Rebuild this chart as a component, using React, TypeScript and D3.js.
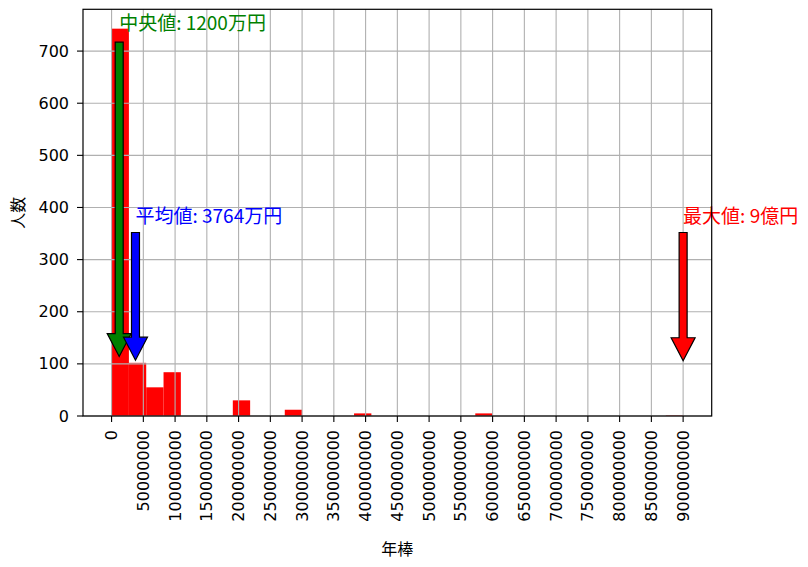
import React from "react";
import * as d3 from "d3";

// ---- data ----
const BIN_MIN = 0;
const BIN_MAX = 900000000;
const BIN_COUNTS = [
  743, 102, 55, 84, 0, 0, 0, 30, 0, 0, 12, 0, 0, 0, 5, 0, 0, 0, 0, 0, 0, 5, 0,
  0, 0, 0, 0, 0, 0, 0, 0, 0, 1,
];
const X_TICKS = d3.range(0, 900000001, 50000000);
const Y_TICKS = [0, 100, 200, 300, 400, 500, 600, 700];
const X_LABEL = "年棒";
const Y_LABEL = "人数";

const ANNOT_LABELS = ["中央値: 1200万円", "平均値: 3764万円", "最大値: 9億円"];
const ANNOT_X = [12000000, 37640000, 900000000];
const ANNOT_COLORS = ["green", "blue", "red"];
const ANNOT_TEXT_Y = [741, 370, 370];
const ARROW_START_Y = [717, 352, 352];
const ARROW_TIP_Y = [114, 107, 106];

// ---- layout ----
const W = 808;
const H = 567;
const M = { left: 83, right: 711.7, top: 9.3, bottom: 416 };
const TICK_FONT = "'DejaVu Sans', 'Noto Sans CJK JP', sans-serif";
const CJK_FONT = "'Noto Sans CJK JP', 'DejaVu Sans', sans-serif";

export default function App() {
  const maxCount = d3.max(BIN_COUNTS) as number;
  const span = BIN_MAX - BIN_MIN;
  const x = d3
    .scaleLinear()
    .domain([BIN_MIN - span * 0.05, BIN_MAX + span * 0.05])
    .range([M.left, M.right]);
  const y = d3
    .scaleLinear()
    .domain([0, maxCount * 1.05])
    .range([M.bottom, M.top]);
  const binW = span / BIN_COUNTS.length;

  const bins = BIN_COUNTS.map((c, i) => ({
    x0: BIN_MIN + i * binW,
    x1: BIN_MIN + (i + 1) * binW,
    c,
  }));

  const shaftW = 8;
  const headW = 24;
  const headL = 23;

  const arrowPath = (xv: number, y0v: number, y1v: number) => {
    const cx = x(xv);
    const ys = y(y0v);
    const yt = y(y1v);
    const yh = yt - headL;
    const p = d3.path();
    p.moveTo(cx - shaftW / 2, ys);
    p.lineTo(cx + shaftW / 2, ys);
    p.lineTo(cx + shaftW / 2, yh);
    p.lineTo(cx + headW / 2, yh);
    p.lineTo(cx, yt);
    p.lineTo(cx - headW / 2, yh);
    p.lineTo(cx - shaftW / 2, yh);
    p.closePath();
    return p.toString();
  };

  return (
    <svg
      width={W}
      height={H}
      style={{ position: "absolute", left: 0, top: 0, background: "#fff" }}
    >
      <rect x={0} y={0} width={W} height={H} fill="#fff" />
      {/* bars */}
      {bins.map((b, i) =>
        b.c > 0 ? (
          <rect
            key={i}
            x={x(b.x0)}
            y={y(b.c)}
            width={x(b.x1) - x(b.x0)}
            height={y(0) - y(b.c)}
            fill="#ff0000"
          />
        ) : null
      )}
      {/* grid */}
      <g stroke="#b0b0b0" strokeWidth={1.1}>
        {X_TICKS.map((t) => (
          <line key={"gx" + t} x1={x(t)} x2={x(t)} y1={M.top} y2={M.bottom} />
        ))}
        {Y_TICKS.map((t) => (
          <line key={"gy" + t} x1={M.left} x2={M.right} y1={y(t)} y2={y(t)} />
        ))}
      </g>
      {/* arrows */}
      {ANNOT_LABELS.map((_, i) => (
        <path
          key={"a" + i}
          d={arrowPath(ANNOT_X[i], ARROW_START_Y[i], ARROW_TIP_Y[i])}
          fill={ANNOT_COLORS[i]}
          stroke="#000"
          strokeWidth={1.2}
          strokeLinejoin="miter"
        />
      ))}
      {/* annotation texts */}
      {ANNOT_LABELS.map((lbl, i) => (
        <text
          key={"t" + i}
          x={x(ANNOT_X[i])}
          y={y(ANNOT_TEXT_Y[i])}
          fill={ANNOT_COLORS[i]}
          fontFamily={CJK_FONT}
          fontSize={19}
        >
          {lbl}
        </text>
      ))}
      {/* spines */}
      <rect
        x={M.left}
        y={M.top}
        width={M.right - M.left}
        height={M.bottom - M.top}
        fill="none"
        stroke="#000"
        strokeWidth={1.2}
      />
      {/* y axis ticks */}
      <g>
        {Y_TICKS.map((t) => (
          <g key={"yt" + t}>
            <line x1={M.left - 6} x2={M.left} y1={y(t)} y2={y(t)} stroke="#000" strokeWidth={1.1} />
            <text
              x={M.left - 14}
              y={y(t)}
              textAnchor="end"
              dominantBaseline="central"
              fontFamily={TICK_FONT}
              fontSize={16}
              fill="#000"
            >
              {t}
            </text>
          </g>
        ))}
      </g>
      {/* x axis ticks */}
      <g>
        {X_TICKS.map((t) => (
          <g key={"xt" + t}>
            <line x1={x(t)} x2={x(t)} y1={M.bottom} y2={M.bottom + 6} stroke="#000" strokeWidth={1.1} />
            <text
              transform={`translate(${x(t)},${M.bottom + 14}) rotate(-90)`}
              textAnchor="end"
              dominantBaseline="central"
              fontFamily={TICK_FONT}
              fontSize={16}
              fill="#000"
            >
              {d3.format("d")(t)}
            </text>
          </g>
        ))}
      </g>
      {/* axis labels */}
      <text
        x={(M.left + M.right) / 2}
        y={555}
        textAnchor="middle"
        fontFamily={CJK_FONT}
        fontSize={16}
        fill="#000"
      >
        {X_LABEL}
      </text>
      <text
        transform={`translate(17,${(M.top + M.bottom) / 2}) rotate(-90)`}
        textAnchor="middle"
        dominantBaseline="central"
        fontFamily={CJK_FONT}
        fontSize={16}
        fill="#000"
      >
        {Y_LABEL}
      </text>
    </svg>
  );
}
